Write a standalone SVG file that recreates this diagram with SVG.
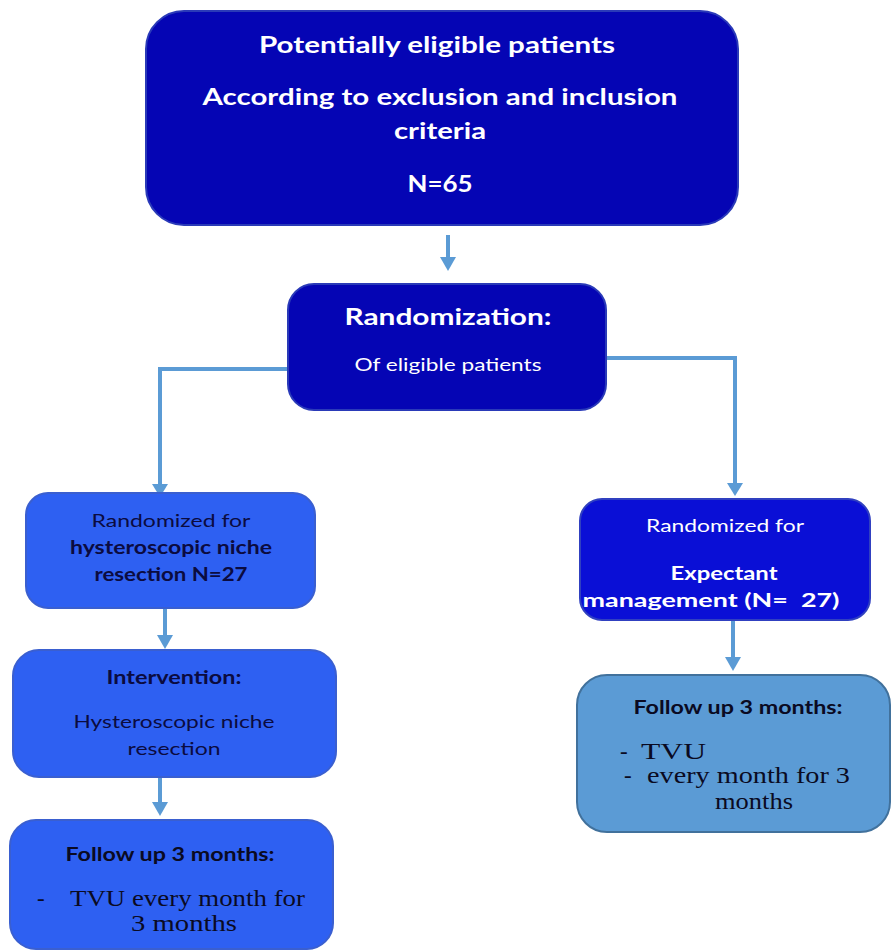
<svg xmlns="http://www.w3.org/2000/svg" width="891" height="951" viewBox="0 0 891 951">
<defs>
<style>
.sans{font-family:Lato,"Open Sans","Liberation Sans",sans-serif}
.serif{font-family:"Liberation Serif","DejaVu Serif",serif}
.b{font-weight:bold}
.w{fill:#ffffff}
.d{fill:#0b0b40}
.k{fill:#0a0a22}
.conn{fill:none;stroke:#5b9bd5;stroke-width:4}
.head{fill:#5b9bd5}
.dark{fill:#0505b4;stroke:#2a3ab8;stroke-width:2}
.dark2{fill:#0a0fd6;stroke:#3040c0;stroke-width:2}
.mid{fill:#2e60f2;stroke:#3a5fd0;stroke-width:2}
.light{fill:#5b9bd5;stroke:#41719c;stroke-width:2}
</style>
</defs>
<rect width="891" height="951" fill="#ffffff"/>
<g id="connectors">
<path class="conn" d="M448 235 V258"/>
<polygon class="head" points="440,257 456,257 448,271"/>
<path class="conn" d="M289 369 H160 V485"/>
<polygon class="head" points="152,484 168,484 160,497"/>
<path class="conn" d="M606 358 H735 V484"/>
<polygon class="head" points="727,483 743,483 735,496"/>
<path class="conn" d="M165 608 V636"/>
<polygon class="head" points="157,635 173,635 165,649"/>
<path class="conn" d="M160 778 V803"/>
<polygon class="head" points="152,802 168,802 160,816"/>
<path class="conn" d="M733 620 V658"/>
<polygon class="head" points="725,657 741,657 733,671"/>
</g>
<g id="node1">
<rect class="dark" x="146" y="11" width="592" height="214" rx="38"/>
<g class="sans b w" font-size="23" text-anchor="middle">
<text x="437" y="53" textLength="356" lengthAdjust="spacingAndGlyphs">Potentially eligible patients</text>
<text x="440" y="105" textLength="475" lengthAdjust="spacingAndGlyphs">According to exclusion and inclusion</text>
<text x="440" y="139" textLength="92" lengthAdjust="spacingAndGlyphs">criteria</text>
<text x="440" y="192" textLength="65" lengthAdjust="spacingAndGlyphs">N=65</text>
</g>
</g>
<g id="node2">
<rect class="dark" x="288" y="284" width="318" height="126" rx="26"/>
<text class="sans b w" font-size="23" x="448" y="325" text-anchor="middle" textLength="207" lengthAdjust="spacingAndGlyphs">Randomization:</text>
<text class="sans w" font-size="18" x="448" y="371" text-anchor="middle" textLength="187" lengthAdjust="spacingAndGlyphs">Of eligible patients</text>
</g>
<g id="node3">
<rect class="mid" x="26" y="493" width="289" height="115" rx="22"/>
<g class="sans d" font-size="18" text-anchor="middle">
<text x="171" y="527" textLength="159" lengthAdjust="spacingAndGlyphs">Randomized for</text>
<text class="b" x="171" y="554" textLength="202" lengthAdjust="spacingAndGlyphs">hysteroscopic niche</text>
<text class="b" x="171" y="581" textLength="153" lengthAdjust="spacingAndGlyphs">resection N=27</text>
</g>
</g>
<g id="node4">
<rect class="mid" x="13" y="650" width="323" height="127" rx="26"/>
<g class="sans d" font-size="18" text-anchor="middle">
<text class="b" x="174" y="684" textLength="135" lengthAdjust="spacingAndGlyphs">Intervention:</text>
<text x="174" y="728" textLength="201" lengthAdjust="spacingAndGlyphs">Hysteroscopic niche</text>
<text x="174" y="755" textLength="93" lengthAdjust="spacingAndGlyphs">resection</text>
</g>
</g>
<g id="node5">
<rect class="mid" x="10" y="820" width="323" height="129" rx="26"/>
<text class="sans b k" font-size="18" x="170" y="861" text-anchor="middle" textLength="209" lengthAdjust="spacingAndGlyphs">Follow up 3 months:</text>
<g class="serif k" font-size="23">
<text x="37" y="906">-</text>
<text x="70" y="906" textLength="235" lengthAdjust="spacingAndGlyphs">TVU every month for</text>
<text x="131" y="931" textLength="106" lengthAdjust="spacingAndGlyphs">3 months</text>
</g>
</g>
<g id="node6">
<rect class="dark2" x="580" y="499" width="290" height="121" rx="22"/>
<g class="sans w" font-size="18" text-anchor="middle">
<text x="725" y="532" textLength="158" lengthAdjust="spacingAndGlyphs">Randomized for</text>
<text class="b" x="724" y="580" textLength="107" lengthAdjust="spacingAndGlyphs">Expectant</text>
<text class="b" x="711" y="607" textLength="257" lengthAdjust="spacingAndGlyphs" style="white-space:pre">management (N=  27)</text>
</g>
</g>
<g id="node7">
<rect class="light" x="577" y="675" width="313" height="157" rx="30"/>
<text class="sans b k" font-size="18" x="738" y="714" text-anchor="middle" textLength="209" lengthAdjust="spacingAndGlyphs">Follow up 3 months:</text>
<g class="serif k" font-size="23">
<text x="620" y="759">-</text>
<text x="641" y="759" textLength="65" lengthAdjust="spacingAndGlyphs">TVU</text>
<text x="624" y="783">-</text>
<text x="647" y="783" textLength="203" lengthAdjust="spacingAndGlyphs">every month for 3</text>
<text x="715" y="809" textLength="78" lengthAdjust="spacingAndGlyphs">months</text>
</g>
</g>
</svg>
